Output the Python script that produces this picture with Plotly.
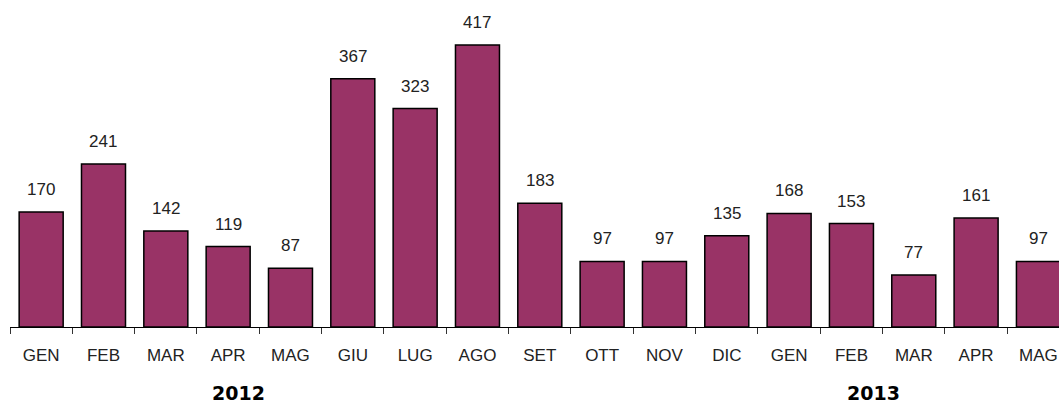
import plotly.graph_objects as go

months = ["GEN", "FEB", "MAR", "APR", "MAG", "GIU", "LUG", "AGO", "SET", "OTT", "NOV", "DIC",
          "GEN", "FEB", "MAR", "APR", "MAG"]
years = ["2012"] * 12 + ["2013"] * 5
values = [170, 241, 142, 119, 87, 367, 323, 417, 183, 97, 97, 135, 168, 153, 77, 161, 97]
year_labels = ["2012", "2013"]
year_label_pos = [3.17, 13.35]  # category-index position of each year caption

cats = [f"{m} {y}" for m, y in zip(months, years)]

fig = go.Figure()
fig.add_trace(go.Bar(
    x=cats, y=values,
    marker=dict(color="#993366", line=dict(color="#000000", width=1.5)),
    hoverinfo="x+y",
))

for c, v in zip(cats, values):
    fig.add_annotation(x=c, y=v, text=str(v), showarrow=False, xref="x", yref="y",
                       yanchor="bottom", yshift=11,
                       font=dict(family="Liberation Sans, Arial", size=17, color="#222222"))

for lab, pos in zip(year_labels, year_label_pos):
    fig.add_annotation(x=pos, y=0, xref="x", yref="paper", text=f"<b>{lab}</b>",
                       showarrow=False, yanchor="middle", yshift=-66,
                       font=dict(family="DejaVu Sans", size=19, color="#000000"))

fig.update_layout(
    width=1059, height=405,
    margin=dict(l=10, r=0, t=0, b=78),
    paper_bgcolor="white", plot_bgcolor="white",
    bargap=0.294, showlegend=False,
    xaxis=dict(
        type="category", categoryorder="array", categoryarray=cats,
        tickmode="array", tickvals=cats, ticktext=months,
        tickson="boundaries", ticks="outside", ticklen=6, tickcolor="#333333", tickwidth=1,
        showline=True, linecolor="#000000", linewidth=1,
        range=[-0.5, 16.33], showgrid=False, zeroline=False,
        tickfont=dict(family="Liberation Sans, Arial", size=17, color="#222222"),
        ticklabelstandoff=13,
    ),
    yaxis=dict(range=[0, 483.5], visible=False, showgrid=False, zeroline=False),
)

fig.write_html("out.html", config={"displayModeBar": False},
               post_script="document.body.style.margin='0';document.body.style.overflow='hidden';")
